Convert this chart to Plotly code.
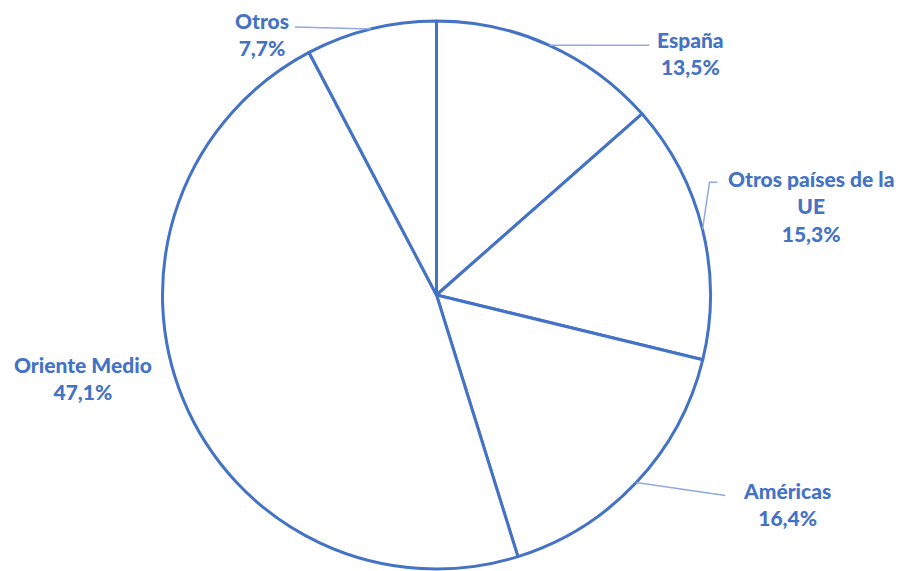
import math
import plotly.graph_objects as go

# Distribution by destination (%)
regions = ["España", "Otros países de la UE", "Américas", "Oriente Medio", "Otros"]
shares = [13.5, 15.3, 16.4, 47.1, 7.7]
label_text = ["España", "Otros países de la<br>UE", "Américas", "Oriente Medio", "Otros"]

W, H = 904, 571
BLUE = "#4472C4"
LEADER = "#8FAADC"

# Pie placement in pixels
cx, cy, r = 436.5, 295.0, 274.0


def px_to_paper(x, y):
    return x / W, 1 - y / H


# Label layout: (text centre x, text centre y, leader path offsets from slice edge)
label_layout = {
    "España": dict(tx=690, ty=53, leader=[(100, 0)]),
    "Otros países de la UE": dict(tx=811, ty=206, leader=[(7, -47), (15, -47)]),
    "Américas": dict(tx=787, ty=504, leader=[(89, 13)]),
    "Oriente Medio": dict(tx=83, ty=378, leader=[]),
    "Otros": dict(tx=262, ty=34, leader=[(-76, -2)]),
}

fig = go.Figure()
x0, y1 = px_to_paper(cx - r, cy - r)
x1, y0 = px_to_paper(cx + r, cy + r)
fig.add_trace(go.Pie(
    labels=regions,
    values=shares,
    sort=False,
    direction="clockwise",
    rotation=0,
    textinfo="none",
    hoverinfo="label+percent",
    showlegend=False,
    marker=dict(colors=["white"] * len(regions), line=dict(color=BLUE, width=3)),
    domain=dict(x=[x0, x1], y=[y0, y1]),
))

annotations = []
shapes = []
total = sum(shares)
cum = 0.0
for name, txt, v in zip(regions, label_text, shares):
    mid = (cum + v / 2) / total * 2 * math.pi
    cum += v
    ex = cx + r * math.sin(mid)
    ey = cy - r * math.cos(mid)
    lay = label_layout[name]
    pts = [(ex, ey)] + [(ex + dx, ey + dy) for dx, dy in lay["leader"]]
    if len(pts) > 1:
        path = "M " + " L ".join(
            "{:.5f},{:.5f}".format(*px_to_paper(px, py)) for px, py in pts
        )
        shapes.append(dict(type="path", xref="paper", yref="paper", path=path,
                           line=dict(color=LEADER, width=1.5), layer="above"))
    pct = "{:.1f}%".format(v).replace(".", ",")
    ax, ay = px_to_paper(lay["tx"], lay["ty"])
    annotations.append(dict(
        x=ax, y=ay, xref="paper", yref="paper", showarrow=False,
        text="{}<br>{}".format(txt, pct),
        xanchor="center", yanchor="middle", align="center",
        font=dict(family="Lato", size=21, color=BLUE, weight=900),
    ))

fig.update_layout(
    width=W, height=H,
    margin=dict(l=0, r=0, t=0, b=0),
    paper_bgcolor="white", plot_bgcolor="white",
    annotations=annotations, shapes=shapes,
)

fig.write_html("out.html")
